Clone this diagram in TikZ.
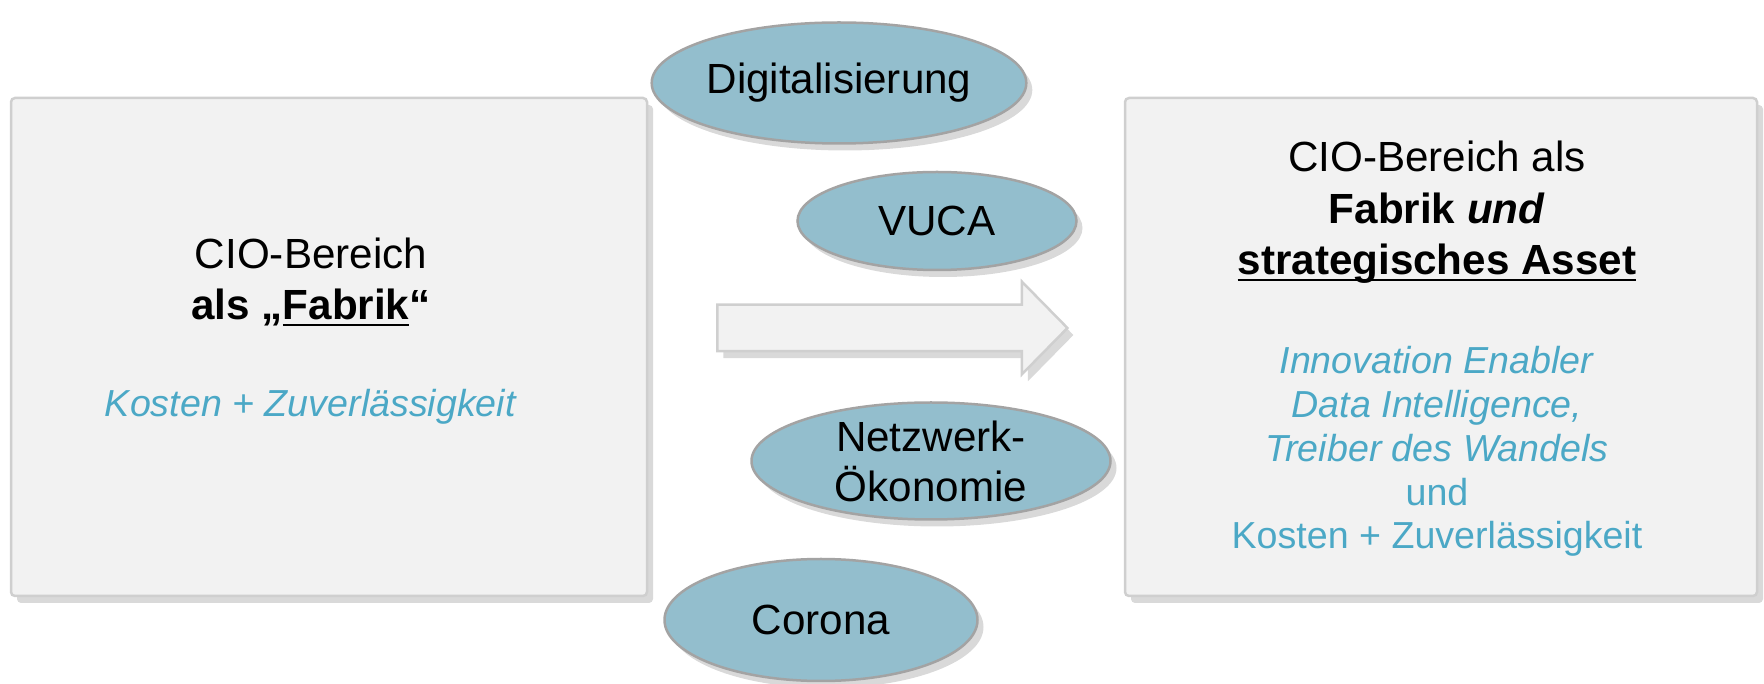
\documentclass[tikz,border=0pt]{standalone}
\usepackage{fontspec}
\setmainfont{Liberation Sans}
\usepackage{xcolor}
\usetikzlibrary{shapes.geometric,shapes.arrows,shadows}

\definecolor{boxgray}{HTML}{F2F2F2}
\definecolor{boxline}{HTML}{CFCFCF}
\definecolor{ovalblue}{HTML}{93BECD}
\definecolor{ovalline}{HTML}{A3A3A3}
\definecolor{textblue}{HTML}{4BA8C6}

\newcommand{\tightline}[1]{\underline{\smash{#1}}}

\begin{document}
\begin{tikzpicture}[x=0.1mm,y=-0.1mm,
  every node/.style={inner sep=0pt},
  panel/.style={rectangle,rounded corners=0.4mm,draw=boxline,line width=0.25mm,fill=boxgray,
    drop shadow={shadow xshift=0.6mm,shadow yshift=-0.7mm,opacity=0.3}},
  driver/.style={ellipse,draw=ovalline,line width=0.25mm,fill=ovalblue,align=center,
    font=\fontsize{12}{14.2}\selectfont,
    drop shadow={shadow xshift=0.6mm,shadow yshift=-0.7mm,opacity=0.3}},
  headline/.style={align=center,anchor=base,font=\fontsize{12}{14.7}\selectfont},
  keywords/.style={align=center,anchor=base,text=textblue,font=\fontsize{10.7}{12.5}\selectfont}]
\useasboundingbox (0,0) rectangle (1764,684);
% the two states
\node (old) at (329,347) [panel,minimum width=63.6mm,minimum height=49.8mm]{};
\node (new) at (1441,347) [panel,minimum width=63.2mm,minimum height=49.8mm]{};
\node (oldtitle) at (311,320) [headline]{CIO-Bereich\\ \textbf{als „\tightline{Fabrik}“}};
\node (oldtext) at (311,417) [keywords]{\textit{Kosten + Zuverlässigkeit}};
\node (newtitle) at (1437,275) [headline]{CIO-Bereich als\\ \textbf{Fabrik \textit{und}}\\ \textbf{\tightline{strategisches Asset}}};
\node (newtext) at (1437,549) [keywords]{\textit{Innovation Enabler}\\ \textit{Data Intelligence,}\\ \textit{Treiber des Wandels}\\ und\\ Kosten + Zuverlässigkeit};
% drivers
\node (dig) at (839,83) [driver,minimum width=35.1mm,minimum height=12.1mm]{Digitalisierung};
\node (vuca) at (937,221) [driver,minimum width=27.9mm,minimum height=9.8mm]{VUCA};
\node (netz) at (931,461) [driver,minimum width=35.9mm,minimum height=11.7mm]{Netzwerk-\\ Ökonomie};
\node (corona) at (821,620) [driver,minimum width=31.3mm,minimum height=12.2mm]{Corona};
% transition
\node (shift) at (881,328) [single arrow,draw=boxline,line width=0.25mm,fill=boxgray,
  inner ysep=2.2mm,minimum height=35mm,minimum width=9mm,single arrow head extend=2.3mm,
  single arrow tip angle=91,
  drop shadow={shadow xshift=0.6mm,shadow yshift=-0.7mm,opacity=0.3}]{};
\end{tikzpicture}
\end{document}
